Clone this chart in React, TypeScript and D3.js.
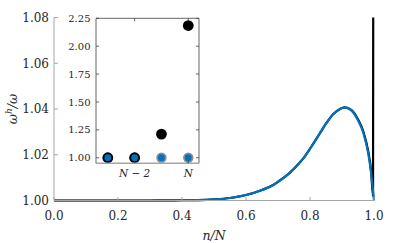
import React from "react";
import * as d3 from "d3";

// main curve samples (n/N, omega^h/omega) — blue series
const nOverN = [0, 0.1, 0.2, 0.3, 0.35, 0.4, 0.45, 0.5, 0.55, 0.6, 0.65, 0.685, 0.7, 0.7375, 0.758, 0.779, 0.804, 0.831, 0.852, 0.873, 0.894, 0.908, 0.93, 0.9495, 0.967, 0.982, 0.991, 1.0];
const ratioBlue = [1.0, 1.0, 1.0, 1.0, 1.00005, 1.0001, 1.0002, 1.0005, 1.0011, 1.0024, 1.0046, 1.0068, 1.0082, 1.0122, 1.0151, 1.0184, 1.0235, 1.0294, 1.034, 1.0378, 1.04, 1.0407, 1.0393, 1.0352, 1.0294, 1.0206, 1.0119, 1.0];
// black series (same grid, last modes spike)
const nOverNBlack = [0, 0.1, 0.2, 0.3, 0.35, 0.4, 0.45, 0.5, 0.55, 0.6, 0.65, 0.685, 0.7, 0.7375, 0.758, 0.779, 0.804, 0.831, 0.852, 0.873, 0.894, 0.908, 0.93, 0.9495, 0.967, 0.982, 0.991, 0.997, 0.9985, 1.0];
const ratioBlack = [1.0, 1.0, 1.0, 1.0, 1.00005, 1.0001, 1.0002, 1.0005, 1.0011, 1.0024, 1.0046, 1.0068, 1.0082, 1.0122, 1.0151, 1.0184, 1.0235, 1.0294, 1.034, 1.0378, 1.04, 1.0407, 1.0395, 1.0356, 1.03, 1.0214, 1.0128, 1.002, 1.212, 2.185];

const xTicks = [0, 0.2, 0.4, 0.6, 0.8, 1.0];
const yTicks = [1.0, 1.02, 1.04, 1.06, 1.08];

// inset: last four modes
const insetIndex = [0, 1, 2, 3]; // N-3, N-2, N-1, N
const insetBlack = [1.0, 1.0, 1.212, 2.185];
const insetBlue = [1.0, 1.0, 1.0, 1.0];
const insetYTicks = [1.0, 1.25, 1.5, 1.75, 2.0, 2.25];
const insetXTicks = [1, 3];
const insetXLabels = ["N − 2", "N"];

const BLUE = "#0072BD";
const AXIS = "#a6a6a6";
const TXT = "#262626";
const FONT = "'DejaVu Serif', serif";

export default function App() {
  const x = d3.scaleLinear().domain([0, 1]).range([54, 374]);
  const y = d3.scaleLinear().domain([1.0, 1.08]).range([200.5, 17.5]);

  const lineGen = (xs: number[], vals: number[]) =>
    d3
      .line<number>()
      .x((_, i) => x(xs[i]))
      .y((d) => y(d))
      .curve(d3.curveMonotoneX)(vals) as string;

  const ix = d3.scaleLinear().domain([-0.44, 3.4]).range([96, 199]);
  const iy = d3.scaleLinear().domain([0.95, 2.25]).range([163.3, 18.3]);

  const ts = (size: number, italic = false): React.CSSProperties => ({
    fontFamily: FONT,
    fontSize: size,
    fontStyle: italic ? "italic" : "normal",
  });

  return (
    <svg
      width={415}
      height={243}
      style={{ position: "absolute", left: 0, top: 0, background: "#fff" }}
    >
      <defs>
        <clipPath id="mainClip">
          <rect x={54} y={17.5} width={330} height={190} />
        </clipPath>
      </defs>
      <rect x={0} y={0} width={415} height={243} fill="#fff" />

      {/* main curves */}
      <g clipPath="url(#mainClip)">
        <path d={lineGen(nOverNBlack, ratioBlack)} fill="none" stroke="#000" strokeWidth={2.2} />
        <path d={lineGen(nOverN, ratioBlue)} fill="none" stroke={BLUE} strokeWidth={2.2} />
      </g>

      {/* main axes */}
      <line x1={54} x2={54} y1={17.5} y2={200.5} stroke={AXIS} strokeWidth={1} />
      <line x1={54} x2={374} y1={200.5} y2={200.5} stroke={AXIS} strokeWidth={1} />
      {yTicks.map((t) => (
        <g key={"y" + t}>
          <line x1={54} x2={58} y1={y(t)} y2={y(t)} stroke={AXIS} />
          <text x={49} y={y(t)} dy="0.36em" textAnchor="end" style={ts(12)} fill={TXT}>
            {t.toFixed(2)}
          </text>
        </g>
      ))}
      {xTicks.map((t) => (
        <g key={"x" + t}>
          <line x1={x(t)} x2={x(t)} y1={200.5} y2={197} stroke={AXIS} />
          <text x={x(t)} y={219.5} textAnchor="middle" style={ts(12)} fill={TXT}>
            {t.toFixed(1)}
          </text>
        </g>
      ))}
      <text x={x(0.5)} y={240} textAnchor="middle" style={ts(12.5, true)} fill={TXT}>
        n/N
      </text>
      <text
        transform={`translate(17,${y(1.04)}) rotate(-90)`}
        textAnchor="middle"
        style={ts(12.5, true)}
        fill={TXT}
      >
        ω<tspan style={{ fontSize: 9 }} dy={-5}>h</tspan>
        <tspan dy={5}>/ω</tspan>
      </text>

      {/* inset */}
      <rect x={96} y={18.3} width={103} height={145} fill="#fff" />
      {insetBlue.map((v, i) => (
        <circle key={"g" + i} cx={ix(insetIndex[i])} cy={iy(v)} r={5.2} fill="#8c8c8c" />
      ))}
      {insetBlack.map((v, i) => (
        <circle key={"k" + i} cx={ix(insetIndex[i])} cy={iy(v)} r={5.4} fill="#000" />
      ))}
      {insetBlue.map((v, i) => (
        <circle key={"b" + i} cx={ix(insetIndex[i])} cy={iy(v)} r={3.4} fill={BLUE} />
      ))}
      <line x1={96} x2={96} y1={18.3} y2={163.3} stroke="#404040" strokeWidth={0.8} />
      <line x1={96} x2={199} y1={18.3} y2={18.3} stroke="#404040" strokeWidth={0.8} />
      <line x1={199} x2={199} y1={18.3} y2={163.3} stroke="#404040" strokeWidth={0.8} />
      <line x1={96} x2={199} y1={163.3} y2={163.3} stroke={AXIS} strokeWidth={1.5} />
      {insetYTicks.map((t) => (
        <g key={"iy" + t}>
          <line x1={96} x2={99} y1={iy(t)} y2={iy(t)} stroke="#404040" strokeWidth={0.8} />
          <line x1={199} x2={196} y1={iy(t)} y2={iy(t)} stroke="#404040" strokeWidth={0.8} />
          <text x={90.5} y={iy(t)} dy="0.36em" textAnchor="end" style={ts(10)} fill={TXT}>
            {t.toFixed(2)}
          </text>
        </g>
      ))}
      {insetXTicks.map((t, i) => (
        <g key={"ix" + t}>
          <line x1={ix(t)} x2={ix(t)} y1={163.3} y2={160.3} stroke="#404040" strokeWidth={0.8} />
          <line x1={ix(t)} x2={ix(t)} y1={18.3} y2={21.3} stroke="#404040" strokeWidth={0.8} />
          <text x={ix(t)} y={177} textAnchor="middle" style={ts(10.5, true)} fill={TXT}>
            {insetXLabels[i]}
          </text>
        </g>
      ))}
    </svg>
  );
}
